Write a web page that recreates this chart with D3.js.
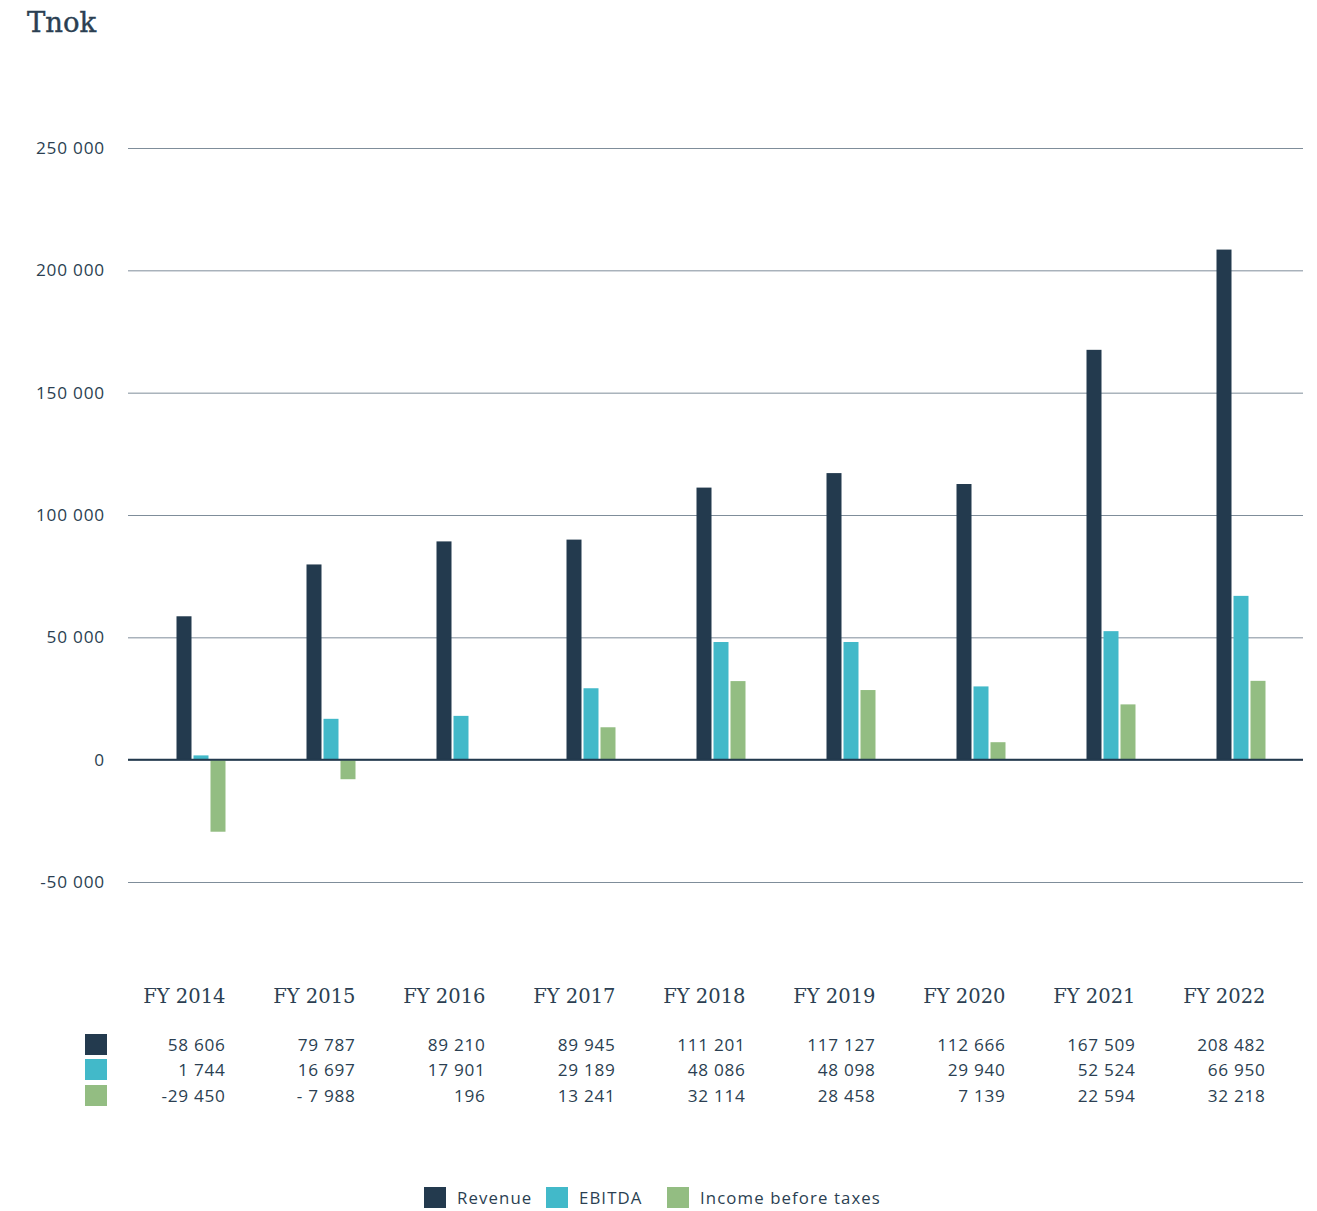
<!DOCTYPE html>
<html>
<head>
<meta charset="utf-8">
<script src="https://cdn.jsdelivr.net/npm/d3@7"></script>
<style>
  html, body { margin: 0; padding: 0; background: #fff; }
  svg { display: block; }
  .sans { font-family: "Open Sans", "Noto Sans", sans-serif; }
  .serif { font-family: "DejaVu Serif", serif; }
</style>
</head>
<body>
<svg id="chart" width="1317" height="1211"></svg>
<script>
// Financial key figures in thousands of NOK
const years = ["FY 2014", "FY 2015", "FY 2016", "FY 2017", "FY 2018", "FY 2019", "FY 2020", "FY 2021", "FY 2022"];
const seriesNames = ["Revenue", "EBITDA", "Income before taxes"];
const revenue = [58606, 79787, 89210, 89945, 111201, 117127, 112666, 167509, 208482];
const ebitda = [1744, 16697, 17901, 29189, 48086, 48098, 29940, 52524, 66950];
const incomeBeforeTaxes = [-29450, -7988, 196, 13241, 32114, 28458, 7139, 22594, 32218];
const yTicks = [-50000, 0, 50000, 100000, 150000, 200000, 250000];
const colors = ["#233a4e", "#42b9c9", "#93bd82"];

const series = [revenue, ebitda, incomeBeforeTaxes];
const textColor = "#2b3f52";

const svg = d3.select("#chart");

// thousands grouped with a space, as in Norwegian notation
const fmt = v => {
  const s = d3.format(",")(Math.abs(v)).replace(/,/g, " ");
  return (v < 0 ? "-" : "") + s;
};
// table labels as printed in the report
const tableLabels = series.map(arr => arr.map(fmt));
tableLabels[2][1] = "- 7 988";

const plotLeft = 128, plotRight = 1303;

const y = d3.scaleLinear().domain([-50000, 250000]).range([882, 148]);
const x = d3.scaleBand().domain(years).range([136, 1306]);
const barW = 15, barGap = 2;
const inner = d3.scaleBand().domain(d3.range(3)).range([0, 3 * barW + 2 * barGap]).paddingInner(barGap / (barW + barGap));
const groupW = 3 * barW + 2 * barGap;
const groupLeft = d => x(d) + x.bandwidth() / 2 - groupW / 2;

// title
svg.append("text").attr("class", "serif")
  .attr("x", 27).attr("y", 32)
  .attr("font-size", 27.5).attr("fill", textColor)
  .attr("stroke", textColor).attr("stroke-width", 0.4)
  .text("Tnok");

// gridlines and tick labels
const yAxis = d3.axisLeft(y).tickValues(yTicks).tickSize(plotRight - plotLeft).tickFormat(fmt);
const gAxis = svg.append("g").attr("transform", `translate(${plotRight},0)`).call(yAxis);
gAxis.select(".domain").remove();
gAxis.selectAll(".tick line").attr("stroke", "#7f8d9a").attr("stroke-width", 1);
gAxis.selectAll(".tick text")
  .attr("class", "sans")
  .attr("x", -(plotRight - 105))
  .attr("dy", "0.32em")
  .attr("font-size", 17.2)
  .attr("letter-spacing", 0.8)
  .attr("fill", textColor);

// bars
const gBars = svg.append("g");
series.forEach((vals, si) => {
  gBars.selectAll(null).data(years).enter().append("rect")
    .attr("x", (d) => groupLeft(d) + inner(si))
    .attr("width", inner.bandwidth())
    .attr("y", (d, i) => y(Math.max(0, vals[i])))
    .attr("height", (d, i) => Math.abs(y(vals[i]) - y(0)))
    .attr("fill", colors[si]);
});

// zero baseline
svg.append("line")
  .attr("x1", plotLeft).attr("x2", plotRight)
  .attr("y1", y(0)).attr("y2", y(0))
  .attr("stroke", "#233a4e").attr("stroke-width", 2);

// category labels
svg.append("g").selectAll("text").data(years).enter().append("text")
  .attr("class", "serif")
  .attr("x", d => groupLeft(d) + groupW)
  .attr("y", 1003)
  .attr("text-anchor", "end")
  .attr("font-size", 19.5)
  .attr("fill", textColor)
  .text(d => d);

// data table
const rowY = [1045, 1070, 1096];
series.forEach((vals, si) => {
  svg.append("rect")
    .attr("x", 85).attr("y", rowY[si] - 11)
    .attr("width", 22).attr("height", 21)
    .attr("fill", colors[si]);
  svg.append("g").selectAll("text").data(years).enter().append("text")
    .attr("class", "sans")
    .attr("x", d => groupLeft(d) + groupW)
    .attr("y", rowY[si])
    .attr("dy", "0.35em")
    .attr("text-anchor", "end")
    .attr("font-size", 17.2)
    .attr("letter-spacing", 0.7)
    .attr("fill", textColor)
    .text((d, i) => tableLabels[si][i]);
});

// legend
const legendX = [424, 546, 667];
const gLeg = svg.append("g");
seriesNames.forEach((name, i) => {
  gLeg.append("rect")
    .attr("x", legendX[i]).attr("y", 1187)
    .attr("width", 22).attr("height", 21)
    .attr("fill", colors[i]);
  gLeg.append("text")
    .attr("class", "sans")
    .attr("x", legendX[i] + 33).attr("y", 1198)
    .attr("dy", "0.35em")
    .attr("font-size", 16.8)
    .attr("letter-spacing", 1.1)
    .attr("fill", textColor)
    .text(name);
});
</script>
</body>
</html>
